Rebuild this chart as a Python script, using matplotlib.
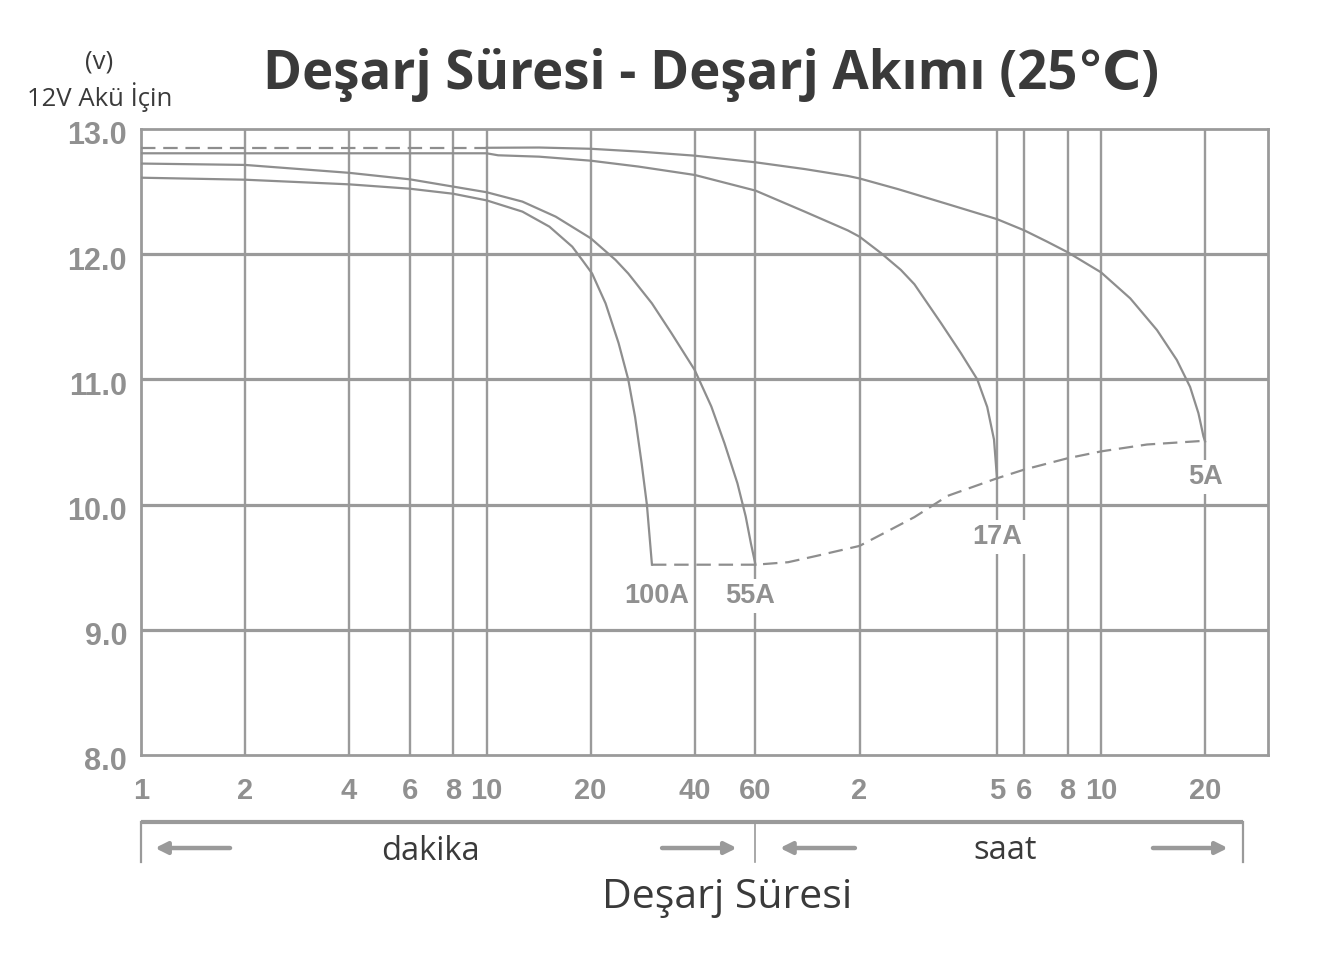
import matplotlib
matplotlib.use('Agg')
import matplotlib.pyplot as plt
import matplotlib.transforms as mtransforms
from matplotlib.ticker import NullLocator

# ---------------- data (time in minutes, voltage in V) ----------------
t_5a = [1, 10, 14.2, 20, 27.5, 40, 60, 83.3, 111, 120, 155, 216, 300, 360, 419, 480, 600, 729, 871, 994,
        1086, 1148, 1167, 1187, 1200]
v_5a = [12.85, 12.85, 12.852, 12.842, 12.82, 12.787, 12.734, 12.68, 12.625, 12.605, 12.52, 12.40, 12.28,
        12.19, 12.1, 12.016, 11.855, 11.647, 11.394, 11.155, 10.94, 10.73, 10.64, 10.545, 10.505]

t_17a = [1, 10, 10.8, 14.2, 20, 27.5, 40, 60, 83.3, 111, 120, 138.6, 158, 173, 206.5, 235.8, 263, 281,
         294, 300]
v_17a = [12.806, 12.806, 12.79, 12.779, 12.747, 12.70, 12.633, 12.508, 12.34, 12.19, 12.14, 12.008, 11.875,
         11.76, 11.45, 11.21, 11.0, 10.78, 10.52, 10.21]

t_55a = [1, 2, 4, 6, 8, 10, 12.7, 15.85, 20, 23.6, 25.7, 30.1, 34.3, 40, 44.7, 48.8, 53.2, 56.2, 58.2, 60]
v_55a = [12.724, 12.713, 12.65, 12.598, 12.54, 12.495, 12.42, 12.30, 12.128, 11.955, 11.846, 11.607,
         11.368, 11.076, 10.784, 10.49, 10.17, 9.907, 9.69, 9.52]

t_100a = [1, 2, 4, 6, 8, 10, 12.7, 15.2, 17.7, 18.9, 20.2, 22.1, 24.1, 25.7, 26.9, 28.1, 29.1, 30.1]
v_100a = [12.611, 12.595, 12.558, 12.523, 12.483, 12.43, 12.34, 12.22, 12.06, 11.955, 11.846, 11.607,
          11.29, 11.0, 10.70, 10.33, 10.0, 9.52]

t_end = [30.1, 60, 74.6, 90, 120, 150, 173, 216, 300, 360, 480, 600, 815, 1200]
v_end = [9.52, 9.52, 9.54, 9.59, 9.67, 9.81, 9.90, 10.07, 10.21, 10.28, 10.37, 10.425, 10.48, 10.51]

curve_labels = ['100A', '55A', '17A', '5A']
label_t = [31.1, 57.8, 300, 1207]
label_v = [9.27, 9.27, 9.74, 10.22]

x_ticks = [1, 2, 4, 6, 8, 10, 20, 40, 60, 120, 300, 360, 480, 600, 1200]
x_tick_labels = ['1', '2', '4', '6', '8', '10', '20', '40', '60', '2', '5', '6', '8', '10', '20']
y_ticks = [8, 9, 10, 11, 12, 13]
y_tick_labels = ['8.0', '9.0', '10.0', '11.0', '12.0', '13.0']

# ---------------- style ----------------
GRID = '#9a9a9a'
CURVE = '#8e8e8e'
LABEL = '#909090'
DARK = '#3a3a3a'
SANS = ['Open Sans', 'DejaVu Sans']
ARIAL = ['Liberation Sans', 'DejaVu Sans']

fig = plt.figure(figsize=(13.19, 9.76), dpi=100)
W, H = 1319, 976
ax = fig.add_axes([141 / W, 1 - 755 / H, (1268 - 141) / W, (755 - 129) / H])
ax.set_xscale('log')
ax.set_xlim(1, 1825)
ax.set_ylim(8, 13)
ax.xaxis.set_minor_locator(NullLocator())

for s in ax.spines.values():
    s.set_color(GRID)
    s.set_linewidth(2.0)

for yv in y_ticks[1:-1]:
    ax.axhline(yv, color=GRID, lw=2.3, zorder=1)
for xv in x_ticks[1:]:
    ax.axvline(xv, color=GRID, lw=1.7, zorder=1)

ax.set_xticks(x_ticks)
ax.set_xticklabels(x_tick_labels)
ax.set_yticks(y_ticks)
ax.set_yticklabels(y_tick_labels)
ax.tick_params(axis='both', length=0, labelcolor=LABEL)
ax.tick_params(axis='x', pad=16, labelsize=21)
ax.tick_params(axis='y', pad=10, labelsize=22)
for lab in ax.get_xticklabels() + ax.get_yticklabels():
    lab.set_fontweight('bold')
    lab.set_family(ARIAL)
offset = mtransforms.ScaledTranslation(0, -4 / 100, fig.dpi_scale_trans)
for lab in ax.get_yticklabels():
    lab.set_transform(lab.get_transform() + offset)

lw_c = 1.6
dash = (0, (6.5, 3.5))
# 5A: first part dashed, then solid
ax.plot(t_5a[:2], v_5a[:2], color=CURVE, lw=lw_c, linestyle=dash, zorder=3)
ax.plot(t_5a[1:], v_5a[1:], color=CURVE, lw=lw_c, zorder=3, solid_joinstyle='round')
ax.plot(t_17a, v_17a, color=CURVE, lw=lw_c, zorder=3, solid_joinstyle='round')
ax.plot(t_55a, v_55a, color=CURVE, lw=lw_c, zorder=3, solid_joinstyle='round')
ax.plot(t_100a, v_100a, color=CURVE, lw=lw_c, zorder=3, solid_joinstyle='round')
ax.plot(t_end, v_end, color=CURVE, lw=lw_c, linestyle=dash, zorder=3)

for lab, tx, vy in zip(curve_labels, label_t, label_v):
    ax.text(tx, vy, lab, ha='center', va='center', fontsize=19.5, fontweight='bold',
            color=LABEL, family=ARIAL, zorder=4,
            bbox=dict(facecolor='white', edgecolor='none', pad=3))

# ---------------- bracket below axis ----------------
trans = mtransforms.blended_transform_factory(ax.transData, ax.transAxes)
y_top = -0.107
y_bot = -0.171
y_arr = -0.1486
ax.plot([1, 1545], [y_top, y_top], transform=trans, color=GRID, lw=3.0, clip_on=False,
        solid_capstyle='butt')
ax.plot([1, 1], [y_top, y_bot], transform=trans, color=GRID, lw=1.6, clip_on=False)
ax.plot([60, 60], [y_top, y_bot], transform=trans, color=GRID, lw=1.2, clip_on=False)
ax.plot([1545, 1545], [y_top, y_bot], transform=trans, color=GRID, lw=1.6, clip_on=False)

arrows = [(1.81, 1.098), (32.2, 53.0), (116.4, 70.6), (848, 1397)]
for x0, x1 in arrows:
    ax.annotate('', xy=(x1, y_arr), xytext=(x0, y_arr), xycoords=trans, textcoords=trans,
                annotation_clip=False,
                arrowprops=dict(arrowstyle='-|>,head_length=0.7,head_width=0.35', lw=3.2,
                                color=GRID, shrinkA=0, shrinkB=0))

ax.text(6.86, -0.154, 'dakika', transform=trans, ha='center', va='center', fontsize=23.5,
        color=DARK, family=SANS)
ax.text(316, -0.152, 'saat', transform=trans, ha='center', va='center', fontsize=23.5,
        color=DARK, family=SANS)

fig.text(0.551, 0.080, 'Deşarj Süresi', ha='center', va='center', fontsize=29.5, color=DARK,
         family=SANS)

# ---------------- titles ----------------
fig.text(0.539, 0.923, 'Deşarj Süresi - Deşarj Akımı (25℃)', ha='center', va='center',
         fontsize=38, fontweight='bold', color=DARK, family=SANS)
fig.text(0.075, 0.9365, '(v)', ha='center', va='center', fontsize=18.5, color=DARK, family=SANS)
fig.text(0.0758, 0.9006, '12V Akü İçin', ha='center', va='center', fontsize=18.5, color=DARK,
         family=SANS)

fig.savefig('out.png', dpi=100, facecolor='white')
